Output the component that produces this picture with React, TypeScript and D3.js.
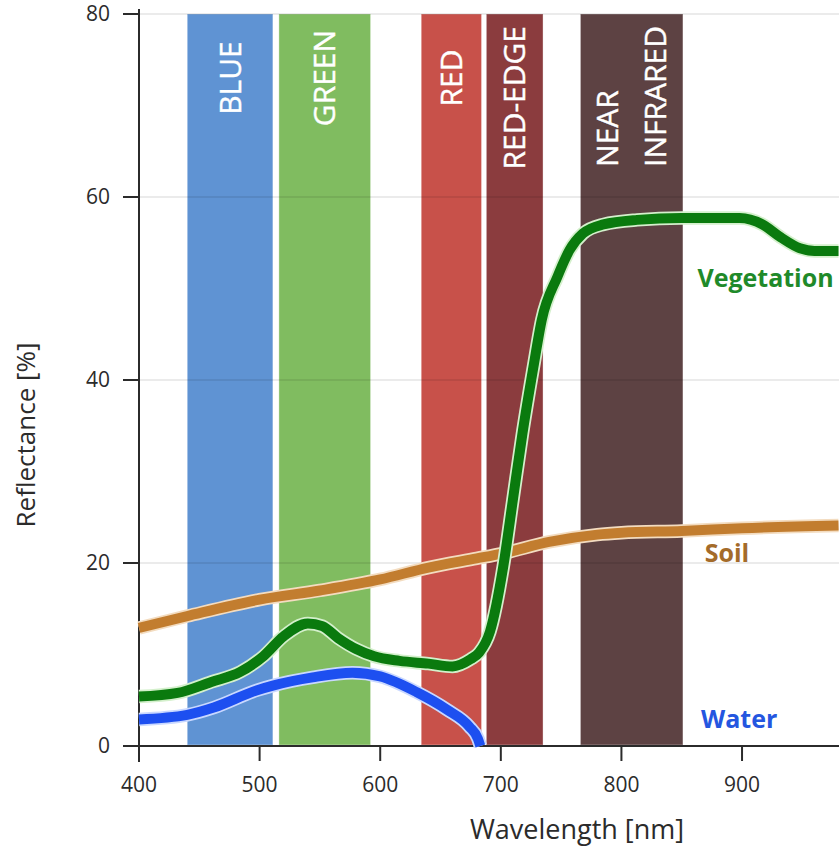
import React, { useEffect, useRef } from "react";
import * as d3 from "d3";

// ---- data ----
const bandNames = ["BLUE", "GREEN", "RED", "RED-EDGE", "NEAR\nINFRARED"];
const bandStart = [440, 516, 634, 688, 766];
const bandEnd = [511, 592, 684, 735, 851];

const xTicks = [400, 500, 600, 700, 800, 900];
const yTicks = [0, 20, 40, 60, 80];

const seriesNames = ["Soil", "Vegetation", "Water"];

const soilWl = [400, 440, 500, 550, 600, 640, 680, 700, 740, 780, 800, 850, 900, 980];
const soilVal = [12.9, 14.2, 16.0, 17.0, 18.2, 19.5, 20.5, 21.0, 22.3, 23.1, 23.3, 23.5, 23.8, 24.1];

const vegWl = [400, 432, 460, 484, 503, 520, 540, 552, 565, 580, 595, 616, 640, 660, 675, 682, 691, 702, 710, 718, 727, 734, 747, 757, 768, 785, 813, 850, 898, 917, 932, 948, 960, 980];
const vegVal = [5.4, 5.8, 7.0, 8.1, 9.8, 12.0, 13.4, 13.1, 11.8, 10.6, 9.8, 9.3, 9.0, 8.7, 9.5, 10.2, 12.5, 19.6, 26.9, 34.2, 41.4, 46.6, 51.3, 54.2, 56.0, 57.0, 57.5, 57.7, 57.7, 57.0, 55.6, 54.4, 54.1, 54.1];

const waterWl = [400, 440, 462, 498, 511, 544, 577, 600, 630, 655, 674, 681, 683];
const waterVal = [2.9, 3.4, 4.2, 6.1, 6.6, 7.5, 8.0, 7.6, 5.9, 4.0, 2.1, 0.8, 0.0];

// ---- styles ----
const bandColors = ["#5f93d3", "#80bc60", "#c8514a", "#8b3c3e", "#5d4243"];
const lineColors = ["#c27d2f", "#0a7a0e", "#1d4ff0"];
const haloColors = ["#f3dcc0", "#d4f0cc", "#c9d8ff"];
const labelColors = ["#a46b2a", "#1f8a2a", "#2456e0"];
// label anchors in data units (wavelength, reflectance)
const labelWl = [869, 863, 866];
const labelVal = [20.1, 50.2, 2.0];

const W = 839;
const H = 846;
const FONT = "'Open Sans', 'Noto Sans', sans-serif";

export default function App() {
  const ref = useRef<SVGSVGElement | null>(null);

  useEffect(() => {
    const svg = d3.select(ref.current);
    svg.selectAll("*").remove();

    const x = d3.scaleLinear().domain([400, 980.4]).range([139, 839]);
    const y = d3.scaleLinear().domain([0, 80]).range([746, 14]);

    // bands
    const bands = bandNames.map((n, i) => ({ name: n, s: bandStart[i], e: bandEnd[i], c: bandColors[i] }));
    svg
      .append("g")
      .selectAll("rect")
      .data(bands)
      .join("rect")
      .attr("x", (d) => x(d.s))
      .attr("width", (d) => x(d.e) - x(d.s))
      .attr("y", y(80))
      .attr("height", y(0) - y(80) - 1)
      .attr("fill", (d) => d.c)
      .attr("stroke", "#ffffff")
      .attr("stroke-opacity", 0.35)
      .attr("stroke-width", 1);

    // band labels
    const lg = svg.append("g");
    bands.forEach((b) => {
      const lines = b.name.split("\n");
      const cx = (x(b.s) + x(b.e)) / 2;
      const texts: any[] = [];
      const gap = 48;
      lines.forEach((ln, j) => {
        const off = (j - (lines.length - 1) / 2) * gap;
        const t = lg
          .append("text")
          .text(ln)
          .attr("fill", "#ffffff")
          .attr("font-family", FONT)
          .attr("font-size", 30)
          .attr("stroke", "#ffffff")
          .attr("stroke-width", 0.4)
          .attr("text-anchor", "start")
          .attr("dy", "0.35em");
        texts.push({ t, off });
      });
      const maxLen = d3.max(texts, (o) => (o.t.node() as SVGTextElement).getComputedTextLength()) || 0;
      const cy = Math.max(78, y(80) + 12 + maxLen / 2);
      const bottom = cy + maxLen / 2;
      texts.forEach((o) => {
        o.t.attr("transform", `translate(${cx + o.off},${bottom}) rotate(-90)`);
      });
    });

    // gridlines
    svg
      .append("g")
      .selectAll("line")
      .data(yTicks.filter((v) => v > 0))
      .join("line")
      .attr("x1", x(400))
      .attr("x2", W)
      .attr("y1", (d) => y(d))
      .attr("y2", (d) => y(d))
      .attr("stroke", "#000")
      .attr("stroke-opacity", 0.16)
      .attr("stroke-width", 1.2);

    // axes
    const axG = svg.append("g").attr("stroke", "#2b2b2b").attr("stroke-width", 2);
    axG.append("line").attr("x1", x(400)).attr("x2", x(400)).attr("y1", 9).attr("y2", y(0) + 16);
    axG.append("line").attr("x1", x(400) - 11).attr("x2", W).attr("y1", y(0)).attr("y2", y(0));
    axG
      .selectAll("line.yt")
      .data(yTicks)
      .join("line")
      .attr("class", "yt")
      .attr("x1", x(400) - 16)
      .attr("x2", x(400))
      .attr("y1", (d) => y(d))
      .attr("y2", (d) => y(d));
    axG
      .selectAll("line.xt")
      .data(xTicks)
      .join("line")
      .attr("class", "xt")
      .attr("x1", (d) => x(d))
      .attr("x2", (d) => x(d))
      .attr("y1", y(0))
      .attr("y2", y(0) + 15);

    svg
      .append("g")
      .selectAll("text")
      .data(yTicks)
      .join("text")
      .attr("x", x(400) - 29)
      .attr("y", (d) => y(d))
      .attr("dy", "0.35em")
      .attr("text-anchor", "end")
      .attr("font-family", FONT)
      .attr("font-size", 21)
      .attr("fill", "#2b2b2b")
      .text((d) => String(d));

    svg
      .append("g")
      .selectAll("text")
      .data(xTicks)
      .join("text")
      .attr("x", (d) => x(d))
      .attr("y", y(0) + 46)
      .attr("text-anchor", "middle")
      .attr("font-family", FONT)
      .attr("font-size", 21)
      .attr("fill", "#2b2b2b")
      .text((d) => String(d));

    svg
      .append("text")
      .attr("x", 577)
      .attr("y", 839)
      .attr("text-anchor", "middle")
      .attr("font-family", FONT)
      .attr("font-size", 27)
      .attr("fill", "#2b2b2b")
      .text("Wavelength [nm]");

    svg
      .append("text")
      .attr("transform", `translate(35,435) rotate(-90)`)
      .attr("text-anchor", "middle")
      .attr("font-family", FONT)
      .attr("font-size", 26)
      .attr("fill", "#2b2b2b")
      .text("Reflectance [%]");

    // curves
    const series = [
      { wl: soilWl, v: soilVal },
      { wl: vegWl, v: vegVal },
      { wl: waterWl, v: waterVal },
    ].map((s, i) => ({
      name: seriesNames[i],
      pts: s.wl.map((w, k) => [w, s.v[k]] as [number, number]),
      color: lineColors[i],
      halo: haloColors[i],
    }));

    const line = d3
      .line<[number, number]>()
      .x((d) => x(d[0]))
      .y((d) => y(d[1]))
      .curve(d3.curveMonotoneX);

    const cg = svg.append("g").attr("fill", "none").attr("stroke-linejoin", "round");
    series.forEach((s) => {
      cg.append("path").attr("d", line(s.pts)).attr("stroke", s.halo).attr("stroke-width", 13.5);
      cg.append("path").attr("d", line(s.pts)).attr("stroke", s.color).attr("stroke-width", 10);
    });

    // series labels
    svg
      .append("g")
      .selectAll("text")
      .data(seriesNames)
      .join("text")
      .attr("x", (d, i) => x(labelWl[i]))
      .attr("y", (d, i) => y(labelVal[i]))
      .attr("font-family", FONT)
      .attr("font-weight", "bold")
      .attr("font-size", 25)
      .attr("fill", (d, i) => labelColors[i])
      .text((d) => d);
  }, []);

  return (
    <svg
      ref={ref}
      width={W}
      height={H}
      style={{ position: "absolute", left: 0, top: 0, background: "#fff" }}
    />
  );
}
